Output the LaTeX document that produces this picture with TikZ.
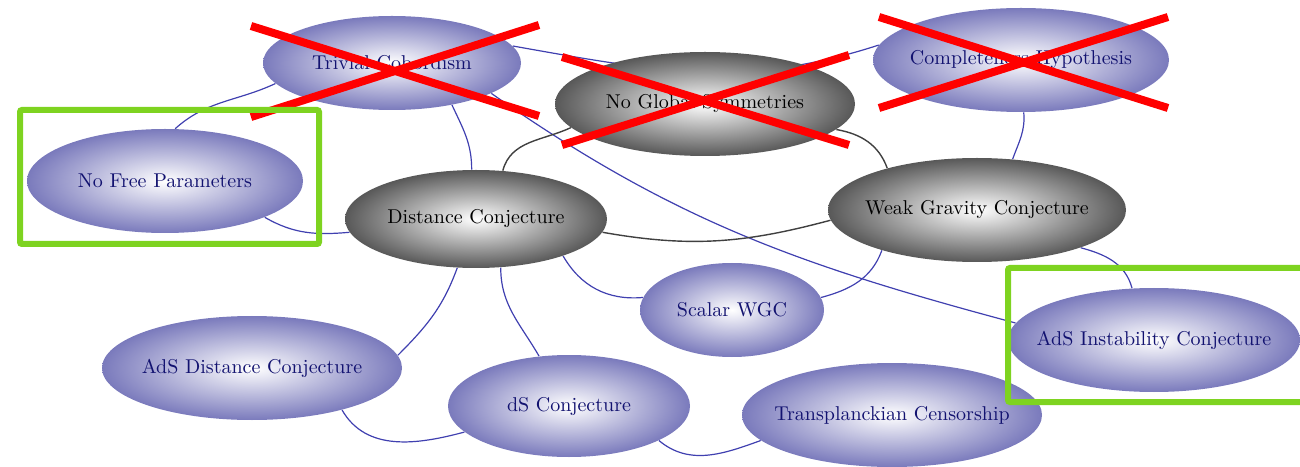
\documentclass[tikz,border=0pt]{standalone}
\usepackage{tikz}
\usetikzlibrary{shapes.geometric}
\usetikzlibrary{backgrounds}
\definecolor{ovalblue}{RGB}{122,122,188}
\definecolor{ovalgray}{RGB}{88,88,88}
\definecolor{ovaltext}{RGB}{18,18,112}
\definecolor{linkblue}{RGB}{64,64,176}
\definecolor{markgreen}{RGB}{126,211,32}
\pgfdeclareradialshading{blueshade}{\pgfpoint{0bp}{0bp}}{color(0bp)=(white); color(25bp)=(ovalblue); color(50bp)=(ovalblue)}
\pgfdeclareradialshading{grayshade}{\pgfpoint{0bp}{0bp}}{color(0bp)=(white); color(25bp)=(ovalgray); color(50bp)=(ovalgray)}
\tikzstyle{blueoval} = [ellipse, shading=blueshade, inner sep=0pt]
\tikzstyle{grayoval} = [ellipse, shading=grayshade, inner sep=0pt]
\tikzstyle{bluetext} = [text=ovaltext, font=\fontsize{10}{12}\selectfont]
\tikzstyle{graytext} = [text=black, font=\fontsize{10}{12}\selectfont]
\tikzstyle{bluelink} = [draw=linkblue, line width=0.6pt]
\tikzstyle{graylink} = [draw=black!75, line width=0.7pt]
\tikzstyle{crossout} = [draw=red, line width=4pt]
\tikzstyle{markbox} = [draw=markgreen, line width=3pt, rounded corners=1pt]

\begin{document}
\begin{tikzpicture}[x=0.5pt, y=0.5pt]
  \useasboundingbox (0,0) rectangle (1300,466);

  \node[blueoval, minimum width=129pt, minimum height=47pt, label={[bluetext, name=tc-t]center:Trivial Cobordism}] (tc) at (392,403) {};
  \node[blueoval, minimum width=138pt, minimum height=52pt, label={[bluetext, name=nfp-t]center:No Free Parameters}] (nfp) at (165,285) {};
  \node[grayoval, minimum width=150pt, minimum height=52pt, label={[graytext, name=ngs-t]center:No Global Symmetries}] (ngs) at (705,362) {};
  \node[blueoval, minimum width=148pt, minimum height=52pt, label={[bluetext, name=ch-t]center:Completeness Hypothesis}] (ch) at (1021,406) {};
  \node[grayoval, minimum width=131pt, minimum height=49pt, label={[graytext, name=dc-t]center:Distance Conjecture}] (dc) at (476,247) {};
  \node[grayoval, minimum width=149pt, minimum height=52pt, label={[graytext, name=wgc-t]center:Weak Gravity Conjecture}] (wgc) at (977,256) {};
  \node[blueoval, minimum width=92pt, minimum height=47pt, label={[bluetext, name=swgc-t]center:Scalar WGC}] (swgc) at (732,156) {};
  \node[blueoval, minimum width=146pt, minimum height=52pt, label={[bluetext, name=ais-t]center:AdS Instability Conjecture}] (ais) at (1154,126) {};
  \node[blueoval, minimum width=150pt, minimum height=52pt, label={[bluetext, name=adc-t]center:AdS Distance Conjecture}] (adc) at (252,98) {};
  \node[blueoval, minimum width=121pt, minimum height=51pt, label={[bluetext, name=dsc-t]center:dS Conjecture}] (dsc) at (569,60) {};
  \node[blueoval, minimum width=150pt, minimum height=52pt, label={[bluetext, name=tpc-t]center:Transplanckian Censorship}] (tpc) at (892,51) {};

  \begin{scope}[on background layer]
    \draw[bluelink] (tc.190) to[out=205, in=42] (nfp.79);
    \draw[bluelink] (tc.325) to[out=-65, in=90] (dc.95);
    \draw[bluelink] (tc.8) to[out=-10, in=198] (ch.174);
    \draw[bluelink] (tc.343) to[out=-35, in=165] (ais.173);
    \draw[bluelink] (nfp.340) to[out=-30, in=185] (dc.186);
    \draw[bluelink] (ch.-87) to[out=-85, in=70] (wgc.55);
    \draw[bluelink] (dc.-23) to[out=-60, in=185] (swgc.172);
    \draw[bluelink] (wgc.203) to[out=-110, in=15] (swgc.8);
    \draw[bluelink] (dc.249) to[out=-110, in=45] (adc.5);
    \draw[bluelink] (dc.-63) to[out=-90, in=120] (dsc.121);
    \draw[bluelink] (adc.-25) to[out=-60, in=195] (dsc.194);
    \draw[bluelink] (dsc.-21) to[out=-40, in=200] (tpc.191);
    \draw[bluelink] (wgc.-20) to[out=-15, in=105] (ais.113);
    \draw[graylink] (dc.61) to[out=75, in=205] (ngs.190);
    \draw[graylink] (ngs.-11) to[out=-10, in=110] (wgc.155);
    \draw[graylink] (dc.-6) to[out=-10, in=195] (wgc.184);
  \end{scope}

  % crossed out
  \draw[crossout] (251,440) -- (539,350) (251,349) -- (539,441);
  \draw[crossout] (562,409) -- (849,321) (562,321) -- (849,411);
  \draw[crossout] (879,449) -- (1168,358) (879,358) -- (1168,449);

  % highlighted
  \draw[markbox] (20,222) rectangle (319,356);
  \draw[markbox] (1312,64) -- (1008,64) -- (1008,198) -- (1312,198);
\end{tikzpicture}
\end{document}
